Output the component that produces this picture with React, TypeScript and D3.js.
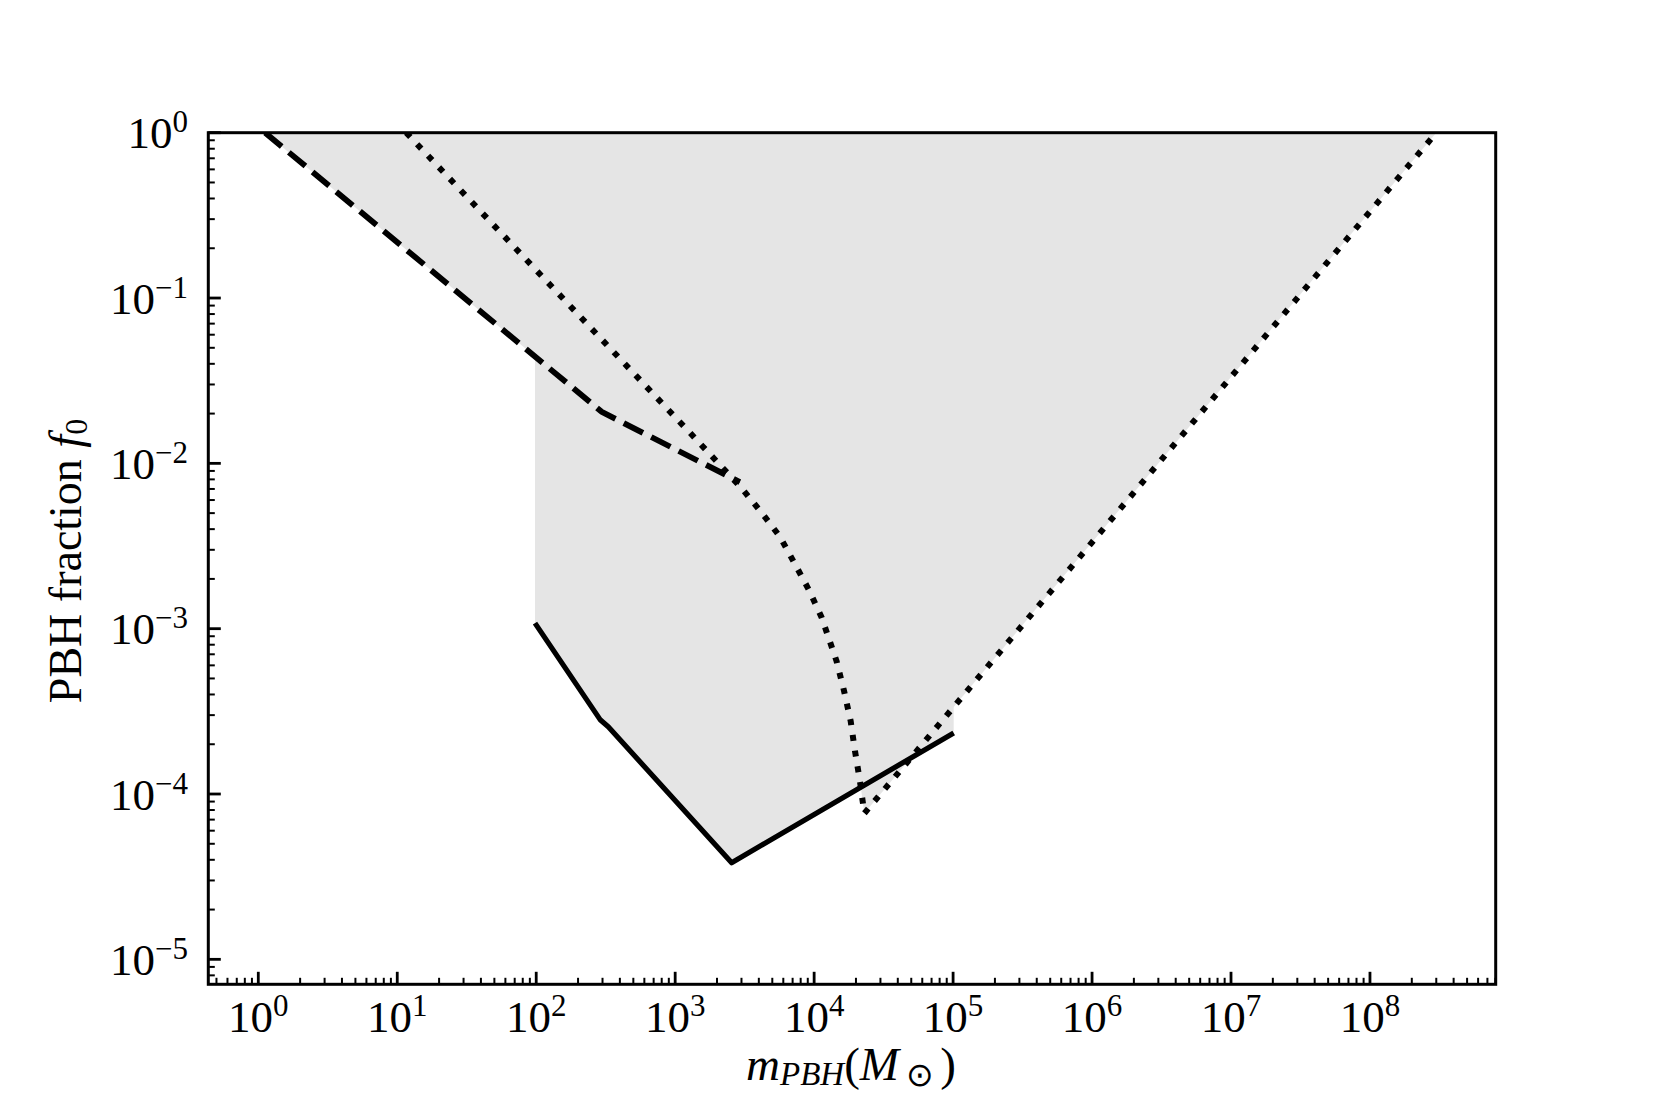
import React from "react";
import * as d3 from "d3";

// ---- data ----
const dashedMass = [1.12, 296, 2920];
const dashedFrac = [1.0, 0.0205, 0.0077];

const dottedMass = [11.6, 1279, 2163, 3013, 4198, 5675, 7278, 9226, 11324, 14521, 16406, 18323, 19677, 21380, 22963, 3.0e8];
const dottedFrac = [1.0, 0.0153, 0.00953, 0.00706, 0.00502, 0.0036, 0.00246, 0.0017, 0.00117, 6.34e-4, 4.21e-4, 2.76e-4, 1.82e-4, 1.19e-4, 7.64e-5, 1.0];

const solidMass = [98, 290, 330, 2550, 1.01e5];
const solidFrac = [1.08e-3, 2.8e-4, 2.55e-4, 3.84e-5, 2.34e-4];

const xMajorExp = [0, 1, 2, 3, 4, 5, 6, 7, 8];
const yMajorExp = [-5, -4, -3, -2, -1, 0];

const W = 1661;
const H = 1107;
const L = 208.3, R = 1495.7, T = 132.7, B = 984.3;

const x = d3.scaleLog().domain([Math.pow(10, -0.3598), Math.pow(10, 8.9048)]).range([L, R]);
const y = d3.scaleLog().domain([Math.pow(10, -5.151), 1]).range([B, T]);

const zip = (a: number[], b: number[]) => a.map((v, i) => [v, b[i]] as [number, number]);

const line = d3
  .line<[number, number]>()
  .x((d) => x(d[0]))
  .y((d) => y(d[1]));

const FONT = "'Liberation Serif', 'Times New Roman', serif";
const GRAY = "#e5e5e5";

function minorTicks(lo: number, hi: number, dom: [number, number]) {
  const out: number[] = [];
  for (let e = lo; e <= hi; e++) {
    for (let k = 2; k <= 9; k++) {
      const v = k * Math.pow(10, e);
      if (v >= dom[0] && v <= dom[1]) out.push(v);
    }
  }
  return out;
}

function expLabel(e: number) {
  return e < 0 ? "\u2212" + Math.abs(e) : String(e);
}

export default function App() {
  const dashedPts = zip(dashedMass, dashedFrac);
  const dottedPts = zip(dottedMass, dottedFrac);
  const solidPts = zip(solidMass, solidFrac);

  const dashedFill = line([
    ...dashedPts,
    [dashedMass[dashedMass.length - 1], 1],
    [dashedMass[0], 1],
  ])! + "Z";
  const dottedFill = line(dottedPts)! + "Z";
  const solidFill = line([
    ...solidPts,
    [solidMass[solidMass.length - 1], 1],
    [solidMass[0], 1],
  ])! + "Z";

  const xd = x.domain() as [number, number];
  const yd = y.domain() as [number, number];
  const xMinor = minorTicks(-1, 8, xd);
  const yMinor = minorTicks(-6, -1, yd);

  return (
    <svg
      width={W}
      height={H}
      style={{ position: "absolute", left: 0, top: 0, background: "#fff" }}
      fontFamily={FONT}
    >
      <defs>
        <clipPath id="plotclip">
          <rect x={L} y={T} width={R - L} height={B - T} />
        </clipPath>
      </defs>
      <rect x={0} y={0} width={W} height={H} fill="#fff" />
      <g clipPath="url(#plotclip)">
        <path d={dashedFill} fill={GRAY} stroke="none" />
        <path d={dottedFill} fill={GRAY} stroke="none" />
        <path d={solidFill} fill={GRAY} stroke="none" />
        <path d={line(dashedPts)!} fill="none" stroke="#000" strokeWidth={5.8} strokeDasharray="21.5 9.3" />
        <path d={line(dottedPts)!} fill="none" stroke="#000" strokeWidth={6} strokeDasharray="6 9.9" />
        <path d={line(solidPts)!} fill="none" stroke="#000" strokeWidth={5.2} strokeLinejoin="round" />
      </g>

      {/* spines */}
      <rect x={L} y={T} width={R - L} height={B - T} fill="none" stroke="#000" strokeWidth={3} />

      {/* x ticks */}
      {xMajorExp.map((e) => {
        const px = x(Math.pow(10, e));
        return (
          <g key={"xM" + e}>
            <line x1={px} x2={px} y1={B} y2={B - 12.5} stroke="#000" strokeWidth={2.8} />
            <text x={px} y={1032} textAnchor="middle" fontSize={45}>
              10
              <tspan dy={-16} fontSize={31}>{expLabel(e)}</tspan>
            </text>
          </g>
        );
      })}
      {xMinor.map((v, i) => (
        <line key={"xm" + i} x1={x(v)} x2={x(v)} y1={B} y2={B - 6.5} stroke="#000" strokeWidth={2} />
      ))}

      {/* y ticks */}
      {yMajorExp.map((e) => {
        const py = y(Math.pow(10, e));
        return (
          <g key={"yM" + e}>
            <line x1={L} x2={L + 12.5} y1={py} y2={py} stroke="#000" strokeWidth={2.8} />
            <text x={188} y={py + 15.5} textAnchor="end" fontSize={45}>
              10
              <tspan dy={-16} fontSize={31}>{expLabel(e)}</tspan>
            </text>
          </g>
        );
      })}
      {yMinor.map((v, i) => (
        <line key={"ym" + i} x1={L} x2={L + 6.5} y1={y(v)} y2={y(v)} stroke="#000" strokeWidth={2} />
      ))}

      {/* x label */}
      <text x={851} y={1080} textAnchor="middle" fontSize={47}>
        <tspan fontStyle="italic">m</tspan>
        <tspan fontStyle="italic" fontSize={33} dy={5}>PBH</tspan>
        <tspan dy={-5}>(</tspan>
        <tspan fontStyle="italic">M</tspan>
        <tspan fontSize={33} dy={6}>{"\u2009\u2299\u2009"}</tspan>
        <tspan dy={-6}>)</tspan>
      </text>

      {/* y label */}
      <text transform={`translate(81,561) rotate(-90)`} textAnchor="middle" fontSize={46}>
        PBH fraction{" "}
        <tspan fontStyle="italic">f</tspan>
        <tspan fontSize={32} dy={6}>0</tspan>
      </text>
    </svg>
  );
}
